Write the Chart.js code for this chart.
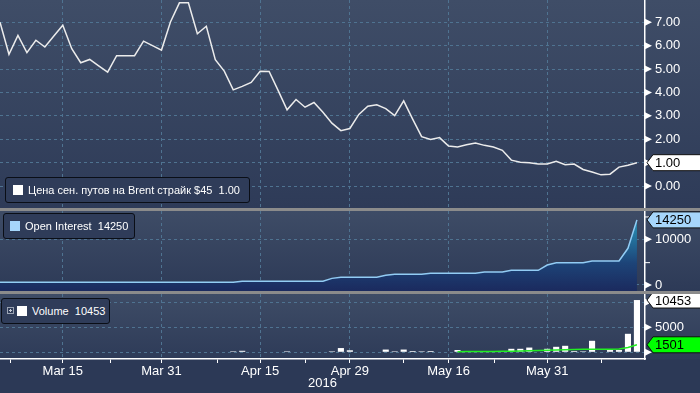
<!DOCTYPE html>
<html>
<head>
<meta charset="utf-8">
<script src="https://cdn.jsdelivr.net/npm/chart.js@4.4.1/dist/chart.umd.min.js"></script>
<style>
  html, body { margin: 0; padding: 0; background: #2c3956; }
  #wrap { position: relative; width: 700px; height: 393px; overflow: hidden; background: #2c3956;
          font-family: "Liberation Sans", Arial, sans-serif; }
  .panel { position: absolute; left: 0; width: 700px; }
  #p1 { top: 0; height: 208px; background: linear-gradient(#3f4d67, #2e3b58); }
  #p2 { top: 211px; height: 80px; background: linear-gradient(#3e4c66, #2d3a57); }
  #p3 { top: 294px; height: 65px; background: linear-gradient(#3e4c66, #2e3b58); }
  .sep { position: absolute; left: 0; width: 700px; height: 3px; background: #8b8b8b; }
  canvas { position: absolute; left: 0; }
  .lbox { position: absolute; border: 1px solid #0a0e16; border-radius: 3px; background: #2f3c59; box-sizing: border-box; }
  .sq { position: absolute; }
  .lt { position: absolute; color: #fff; font-size: 11px; line-height: 13px; white-space: pre; }
  .plus { position: absolute; left: 7px; top: 307px; width: 7px; height: 7px; box-sizing: border-box;
          border: 1px solid #9aa3b3; }
  .plus::before { content: ""; position: absolute; left: 1px; top: 2px; width: 3px; height: 1px; background: #c8ced8; }
  .plus::after { content: ""; position: absolute; left: 2px; top: 1px; width: 1px; height: 3px; background: #c8ced8; }
</style>
</head>
<body>
<div id="wrap">
  <div class="panel" id="p1"></div>
  <div class="panel" id="p2"></div>
  <div class="panel" id="p3"></div>
  <div class="sep" style="top:208px"></div>
  <div class="sep" style="top:291px"></div>

  <canvas id="c1" width="700" height="208" style="top:0"></canvas>
  <canvas id="c2" width="700" height="80" style="top:211px"></canvas>
  <canvas id="c3" width="700" height="99" style="top:294px"></canvas>

  <div class="lbox" style="left:5px;top:177px;width:245px;height:26px"></div>
  <div class="sq" style="left:13px;top:185px;width:10px;height:10px;background:#fff"></div>
  <div class="lt" style="left:28px;top:184px">Цена сен. путов на Brent страйк $45  1.00</div>

  <div class="lbox" style="left:3px;top:213px;width:132px;height:26px"></div>
  <div class="sq" style="left:10px;top:221px;width:10px;height:10px;background:#a6d6fb"></div>
  <div class="lt" style="left:25px;top:220px">Open Interest  14250</div>

  <div class="lbox" style="left:1px;top:298px;width:109px;height:26px"></div>
  <div class="plus"></div>
  <div class="sq" style="left:17px;top:306px;width:10px;height:10px;background:#fff"></div>
  <div class="lt" style="left:32px;top:305px">Volume  10453</div>
</div>

<script>
// trading-day index 0 .. 71 (early March -> 14 June 2016)
const xTickIdx = [7, 18, 29, 39, 50, 61];
const xTickText = ['Mar 15', 'Mar 31', 'Apr 15', 'Apr 29', 'May 16', 'May 31'];
const xMinorIdx = [1.2, 12.3, 24.2, 34.1, 45, 55.1, 67];

// put price, USD
const putPrice = [
  7.00, 5.63, 6.44, 5.70, 6.23, 5.94, 6.41, 6.87, 5.87, 5.27,
  5.41, 5.14, 4.87, 5.57, 5.57, 5.57, 6.19, 6.00, 5.81, 7.01,
  7.83, 7.83, 6.51, 6.83, 5.40, 4.91, 4.11, 4.26, 4.43, 4.91,
  4.90, 4.09, 3.26, 3.70, 3.37, 3.57, 3.15, 2.69, 2.37, 2.46,
  3.06, 3.41, 3.47, 3.31, 3.01, 3.64, 2.86, 2.11, 1.99, 2.07,
  1.71, 1.67, 1.77, 1.84, 1.74, 1.67, 1.53, 1.11, 1.02, 1.00,
  0.94, 0.94, 1.06, 0.91, 0.94, 0.71, 0.60, 0.48, 0.51, 0.81,
  0.89, 1.00
];

const openInterest = [
  600, 600, 600, 600, 600, 600, 600, 600, 600, 600,
  600, 600, 600, 600, 600, 600, 600, 600, 600, 600,
  600, 600, 600, 600, 600, 600, 600, 810, 810, 810,
  810, 810, 810, 810, 810, 810, 810, 1450, 1680, 1680,
  1680, 1680, 1680, 2120, 2340, 2340, 2340, 2340, 2560, 2560,
  2560, 2560, 2560, 2560, 2840, 2840, 2840, 3210, 3210, 3210,
  3210, 4380, 4880, 4880, 4880, 4880, 5250, 5250, 5250, 5250,
  8030, 14250
];

const volume = [
  null, null, null, null, null, null, null, null, null, null,
  null, null, null, null, null, null, null, null, null, null,
  null, null, null, null, null, null, 100, 300, null, null,
  null, null, 100, null, null, null, null, 100, 850, 400,
  null, null, null, 550, 100, 550, 250, 100, 250, null,
  null, 450, 60, 60, null, null, null, 700, 700, 950,
  null, 700, 1100, 1300, 250, 60, 2300, null, 450, 450,
  3700, 10453
];

const volumeAvg = [
  null, null, null, null, null, null, null, null, null, null,
  null, null, null, null, null, null, null, null, null, null,
  null, null, null, null, null, null, null, null, null, null,
  null, null, null, null, null, null, null, null, null, null,
  null, null, null, null, null, null, null, null, null, null,
  null, 130, 140, 150, 160, 170, 190, 220, 260, 320,
  370, 430, 470, 520, 560, 590, 600, 610, 620, 640,
  950, 1501
];

const font = '"Liberation Sans", Arial, sans-serif';
const gridColor = '#4f7391';
const xMax = 71.9;
Chart.defaults.font.family = font;

const pts = arr => arr.map((v, i) => ({ x: i, y: v }));

// triangles on the right axis + value flags
const rightAxisMarks = {
  id: 'rightAxisMarks',
  afterDraw(chart, args, opts) {
    const s = chart.scales.y;
    const ctx = chart.ctx;
    const x0 = s.left;
    ctx.save();
    ctx.fillStyle = '#fff';
    ctx.strokeStyle = '#fff';
    ctx.lineWidth = 1;
    s.ticks.forEach((t, i) => {
      const py = s.getPixelForTick(i);
      if (opts.major.includes(t.value)) {
        ctx.beginPath();
        ctx.moveTo(x0, py - 3.5);
        ctx.lineTo(x0 + 7, py);
        ctx.lineTo(x0, py + 3.5);
        ctx.closePath();
        ctx.fill();
      } else {
        ctx.beginPath();
        ctx.moveTo(x0, py + 0.5);
        ctx.lineTo(x0 + 5, py + 0.5);
        ctx.stroke();
      }
    });
    opts.flags.forEach(f => {
      const py = s.getPixelForValue(f.value);
      ctx.beginPath();
      ctx.moveTo(x0 + 2, py);
      ctx.lineTo(x0 + 8, py - 8);
      ctx.lineTo(chart.width + 2, py - 8);
      ctx.lineTo(chart.width + 2, py + 8);
      ctx.lineTo(x0 + 8, py + 8);
      ctx.closePath();
      ctx.fillStyle = f.bg;
      ctx.fill();
      ctx.strokeStyle = '#111';
      ctx.stroke();
      ctx.fillStyle = '#000';
      ctx.font = '13px ' + font;
      ctx.textBaseline = 'middle';
      ctx.fillText(f.text, x0 + 10, py + 1);
    });
    ctx.restore();
  }
};

function yAxis(min, max, major, minor, labelled, fmt) {
  return {
    position: 'right', min: min, max: max,
    afterFit: s => { s.width = 55; s.paddingTop = 0; s.paddingBottom = 0; },
    afterBuildTicks: s => {
      s.ticks = major.concat(minor).sort((a, b) => a - b).map(v => ({ value: v }));
    },
    grid: {
      drawTicks: false,
      color: c => (c.tick && major.includes(c.tick.value)) ? gridColor : 'rgba(0,0,0,0)'
    },
    border: { display: true, color: '#fff', width: 1.5, dash: [3, 3] },
    ticks: {
      padding: 10, color: '#fff', font: { size: 13 },
      callback: v => labelled.includes(v) ? fmt(v) : ''
    }
  };
}

function xAxis(showLabels) {
  const list = showLabels ? xTickIdx.concat(xMinorIdx) : xTickIdx.slice();
  return {
    type: 'linear', min: 0, max: xMax, offset: false,
    afterBuildTicks: s => {
      s.ticks = list.sort((a, b) => a - b).map(v => ({ value: v }));
    },
    afterFit: s => { s.height = showLabels ? 34 : 0; s.paddingLeft = 0; s.paddingRight = 0; },
    grid: {
      offset: false,
      drawTicks: showLabels, tickLength: 4, tickColor: '#fff', tickWidth: 1,
      color: c => (c.tick && xTickIdx.includes(c.tick.value)) ? gridColor : 'rgba(0,0,0,0)'
    },
    border: { display: showLabels, color: '#fff', width: 1.5, dash: [3, 3] },
    ticks: {
      display: showLabels, autoSkip: false, maxRotation: 0, padding: 1,
      color: '#fff', font: { size: 13 },
      callback: v => { const k = xTickIdx.indexOf(v); return k >= 0 ? xTickText[k] : ''; }
    },
    title: {
      display: showLabels, text: '2016', color: '#fff', font: { size: 13 },
      padding: { top: 0, bottom: 2 }
    }
  };
}

const base = {
  responsive: false, animation: false, devicePixelRatio: 1,
  layout: { padding: 0 },
  plugins: { legend: { display: false }, tooltip: { enabled: false } }
};

const priceTicks = [0, 1, 2, 3, 4, 5, 6, 7];

// panel 1: put price
new Chart(document.getElementById('c1'), {
  type: 'line',
  data: { datasets: [{
    data: pts(putPrice), borderColor: '#ececec', borderWidth: 1.5,
    pointRadius: 0, tension: 0
  }] },
  options: Object.assign({}, base, {
    scales: {
      x: xAxis(false),
      y: yAxis(-0.936, 7.95, priceTicks, [], priceTicks, v => v.toFixed(2))
    },
    plugins: Object.assign({}, base.plugins, {
      rightAxisMarks: { major: priceTicks, flags: [{ value: putPrice[71], text: '1.00', bg: '#ffffff' }] }
    })
  }),
  plugins: [rightAxisMarks]
});

// panel 2: open interest
new Chart(document.getElementById('c2'), {
  type: 'line',
  data: { datasets: [{
    data: pts(openInterest), borderColor: '#92ccf4', borderWidth: 1.5,
    pointRadius: 0, tension: 0, fill: 'start',
    backgroundColor: c => {
      const a = c.chart.chartArea;
      if (!a) return '#1d2d62';
      const g = c.chart.ctx.createLinearGradient(0, a.bottom, 0, a.top);
      g.addColorStop(0, '#1b2a5e');
      g.addColorStop(0.35, '#1d4478');
      g.addColorStop(1, '#2ba6c6');
      return g;
    }
  }] },
  options: Object.assign({}, base, {
    scales: {
      x: xAxis(false),
      y: yAxis(-1313, 16193, [0, 10000], [5000, 15000], [0, 10000], v => String(v))
    },
    plugins: Object.assign({}, base.plugins, {
      rightAxisMarks: { major: [0, 10000], flags: [{ value: openInterest[71], text: '14250', bg: '#a6d6fb' }] }
    })
  }),
  plugins: [rightAxisMarks]
});

// panel 3: volume + average
new Chart(document.getElementById('c3'), {
  type: 'bar',
  data: { datasets: [
    { type: 'line', data: pts(volumeAvg), borderColor: '#22ee22', borderWidth: 1.5,
      pointRadius: 0, tension: 0, order: 0 },
    { type: 'bar', data: pts(volume), backgroundColor: '#ffffff',
      barPercentage: 0.68, categoryPercentage: 1, minBarLength: 1, order: 1 }
  ] },
  options: Object.assign({}, base, {
    scales: {
      x: xAxis(true),
      y: yAxis(-1340, 11660, [0, 5000, 10000], [2500, 7500], [5000], v => String(v))
    },
    plugins: Object.assign({}, base.plugins, {
      rightAxisMarks: { major: [0, 5000, 10000], flags: [
        { value: volume[71], text: '10453', bg: '#ffffff' },
        { value: volumeAvg[71], text: '1501', bg: '#00ff00' }
      ] }
    })
  }),
  plugins: [rightAxisMarks]
});
</script>
</body>
</html>
